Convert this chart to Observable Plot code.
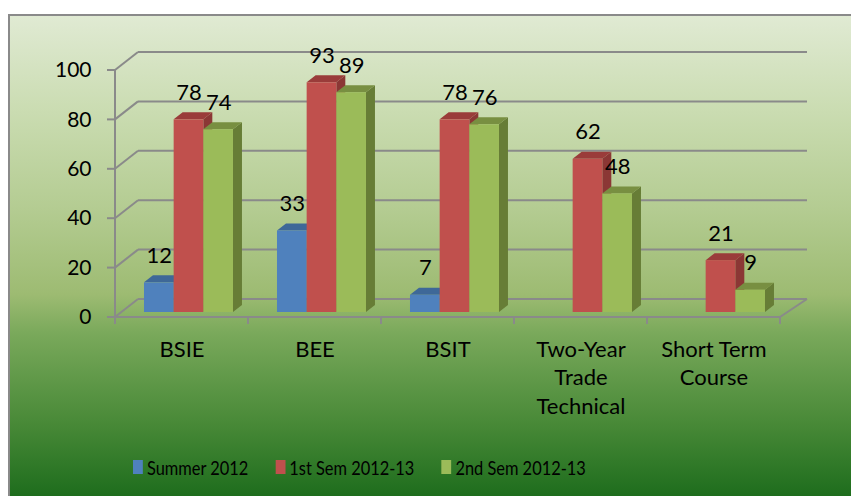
<!DOCTYPE html>
<html><head><meta charset="utf-8">
<script src="https://cdn.jsdelivr.net/npm/d3@7"></script>
<script src="https://cdn.jsdelivr.net/npm/@observablehq/plot@0.6"></script>
<style>
html,body{margin:0;padding:0;background:#fff;}
#wrap{position:relative;width:851px;height:496px;overflow:hidden;font-family:Lato,sans-serif;}
#bg{position:absolute;left:8px;top:14px;width:843px;height:482px;box-sizing:border-box;
  border-left:2px solid #8a8a8a;border-top:2px solid #8a8a8a;
  background:linear-gradient(to bottom,#e0ead3 0%,#cadcb1 20%,#b4cc92 40%,#9dbb72 58%,#7aa95b 66%,#5f9848 76%,#488937 85%,#1e6d1d 100%);}
#chart{position:absolute;left:0;top:0;}
#legend{position:absolute;left:133px;top:455px;transform:scaleX(0.82);transform-origin:0 0;white-space:nowrap;}
#legend [class*="-swatches"]{font-family:Lato,sans-serif !important;font-size:20px !important;color:#000 !important;min-height:20px !important;margin:0 !important;flex-wrap:nowrap !important;}
#legend [class$="-swatch"]{margin-right:33px !important;}
#legend [class$="-swatch"] > svg{margin-right:5px !important;}
</style>
</head><body>
<div id="wrap"><div id="bg"></div><div id="chart"></div><div id="legend"></div></div>
<script>
const categories = ["BSIE","BEE","BSIT","Two-Year Trade Technical","Short Term Course"];
const categoryLabels = ["BSIE","BEE","BSIT","Two-Year\nTrade\nTechnical","Short Term\nCourse"];
const series = ["Summer 2012","1st Sem 2012-13","2nd Sem 2012-13"];
const summer2012 = [12,33,7,null,null];
const sem1 = [78,93,78,62,21];
const sem2 = [74,89,76,48,9];
const yTicks = [0,20,40,60,80,100];
const colors = ["#4f81bd","#c0504d","#9bbb59"];
const topColors = ["#3e6898","#9a3c3a","#788f41"];
const sideColors = ["#385d8a","#8b3735","#677d36"];

const seriesValues = [summer2012, sem1, sem2];
const rows = [];
categories.forEach((c, ci) => seriesValues.forEach((vals, si) => {
  if (vals[ci] != null) rows.push({category: c, series: series[si], si, value: vals[ci]});
}));

const W = 851, H = 496, ML = 115, MR = 71;
const BW = (W - ML - MR) / categories.length;
const OFF = BW * 0.218, BWID = BW * 0.223;
const FY = 5, BX = 23, BY = -13;

function bwOf(x) { return typeof x.bandwidth === "function" ? x.bandwidth() : x.bandwidth; }

function frame3d(index, scales) {
  const {x, y} = scales;
  const bw = bwOf(x);
  const x0 = x(categories[0]);
  const x1 = x(categories[categories.length - 1]) + bw;
  const g = d3.create("svg:g").attr("stroke", "#8a8a8a").attr("stroke-width", 2).attr("fill", "none");
  for (const t of yTicks) {
    const yf = y(t) + FY, yb = y(t) + BY;
    g.append("line").attr("x1", x0).attr("y1", yf).attr("x2", x0 + BX).attr("y2", yb);
    g.append("line").attr("x1", x0 + BX).attr("y1", yb).attr("x2", x1 + BX + 4).attr("y2", yb);
    g.append("line").attr("x1", x0 - 8).attr("y1", yf).attr("x2", x0).attr("y2", yf);
  }
  g.append("line").attr("x1", x0).attr("y1", y(0) + FY).attr("x2", x0).attr("y2", y(100) + FY);
  g.append("line").attr("x1", x0).attr("y1", y(0) + FY).attr("x2", x1).attr("y2", y(0) + FY);
  g.append("line").attr("x1", x1).attr("y1", y(0) + FY).attr("x2", x1 + BX + 4).attr("y2", y(0) + BY);
  for (let i = 0; i <= categories.length; i++) {
    const xx = x0 + i * bw;
    g.append("line").attr("x1", xx).attr("y1", y(0) + FY).attr("x2", xx).attr("y2", y(0) + FY + 7);
  }
  return g.node();
}

function bars3d(index, scales) {
  const {x, y} = scales;
  const bw = bwOf(x);
  const off = bw * 0.218, bwid = bw * 0.223, DX = 9, DY = -7;
  const g = d3.create("svg:g");
  const order = rows.slice().sort((a, b) => categories.indexOf(a.category) - categories.indexOf(b.category) || a.si - b.si);
  for (const r of order) {
    const L = x(r.category) + off + r.si * bwid, R = L + bwid;
    const T = y(r.value), B = y(0);
    g.append("polygon").attr("points", [[R, B], [R + DX, B + DY], [R + DX, T + DY], [R, T]].join(" ")).attr("fill", sideColors[r.si]);
    g.append("polygon").attr("points", [[L, T], [L + DX, T + DY], [R + DX, T + DY], [R, T]].join(" ")).attr("fill", topColors[r.si]);
    g.append("rect").attr("x", L).attr("y", T).attr("width", bwid).attr("height", B - T).attr("fill", colors[r.si]);
  }
  return g.node();
}

const valueLabels = series.map((s, si) =>
  Plot.text(rows.filter(r => r.si === si), {
    x: "category", y: "value", text: d => String(d.value),
    dx: OFF + (si + 0.5) * BWID - BW / 2, dy: -27, fontSize: 22
  })
);

const chart = Plot.plot({
  width: W, height: H,
  marginLeft: ML, marginRight: MR, marginTop: 65, marginBottom: 184,
  style: {background: "transparent", fontFamily: "Lato, sans-serif", fontSize: "20px", color: "#000", overflow: "visible"},
  x: {type: "band", domain: categories, padding: 0, axis: null},
  y: {domain: [0, 100], axis: null},
  marks: [
    frame3d,
    bars3d,
    Plot.text(yTicks, {y: d => d, text: d => String(d), frameAnchor: "left", textAnchor: "end", dx: -24, dy: FY, fontSize: 21}),
    Plot.text(categories, {x: d => d, text: (d, i) => categoryLabels[i], frameAnchor: "bottom", lineAnchor: "top", dy: 24, lineHeight: 1.3, fontSize: 22}),
    ...valueLabels
  ]
});
document.getElementById("chart").appendChild(chart);

const legend = Plot.legend({
  color: {type: "categorical", domain: series, range: colors},
  swatchWidth: 12, swatchHeight: 14
});
document.getElementById("legend").appendChild(legend);
</script>
</body></html>
